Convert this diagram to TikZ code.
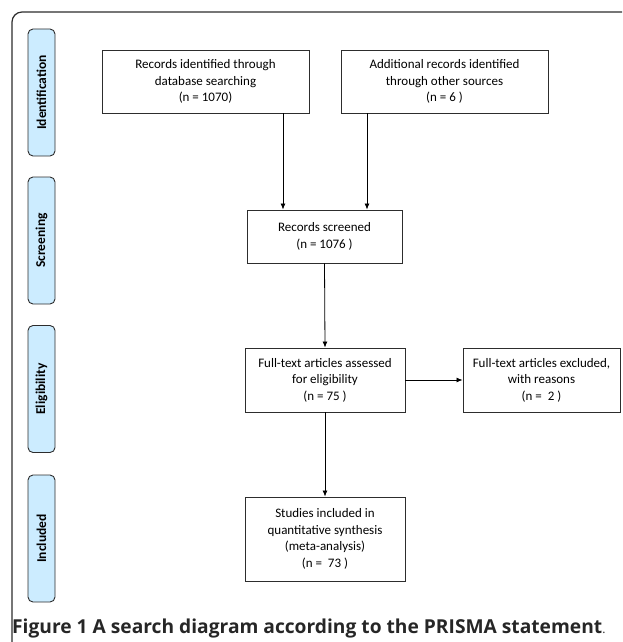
\documentclass[tikz,border=0pt]{standalone}
\usepackage{fontspec}
\setmainfont{Carlito}
\newfontfamily\capfont{Open Sans}
\usetikzlibrary{arrows.meta}
\definecolor{phaseblue}{RGB}{204,236,255}
\definecolor{linegray}{RGB}{45,45,45}

\begin{document}
\begin{tikzpicture}[
       x=1pt, y=-1pt,
       box/.style={
         draw=linegray,
         line width=0.9pt,
         align=center,
         font=\fontsize{13}{16.5}\selectfont,
         inner sep=2pt
       },
       phase/.style={
         draw=linegray,
         fill=phaseblue,
         line width=0.9pt,
         rounded corners=5pt,
         rotate=90,
         minimum width=127pt,
         minimum height=27pt,
         font=\bfseries\fontsize{13.5}{15}\selectfont
       },
       flow/.style={
         -{Latex[length=6pt,width=5pt]},
         line width=0.8pt,
         draw=black
       }
     ]

       \useasboundingbox (0,0) rectangle (622,642);

       % frame
       \draw[linegray, line width=1.2pt, rounded corners=10pt]
         (12,642) -- (12,12) -- (622,12);

       % phases
       \node (idf) at (41.5,92.5) [phase]{Identification};
       \node (scr) at (41.5,240.5) [phase]{Screening};
       \node (elg) at (41.5,389) [phase]{Eligibility};
       \node (inc) at (41.5,538.5) [phase]{Included};

       % boxes
       \node (db) at (205.5,81.5) [box,minimum width=207pt,minimum height=63pt]
         {Records identified through\\database searching\\(n = 1070)};
       \node (other) at (444.5,81.5) [box,minimum width=207pt,minimum height=63pt]
         {Additional records identified\\through other sources\\(n = 6 )};
       \node (screened) at (324.5,236.5) [box,minimum width=155pt,minimum height=53pt]
         {Records screened\\(n = 1076 )};
       \node (assessed) at (325,380) [box,minimum width=160pt,minimum height=64pt]
         {Full-text articles assessed\\for eligibility\\(n = 75 )};
       \node (excluded) at (541.5,380) [box,minimum width=157pt,minimum height=64pt]
         {Full-text articles excluded,\\with reasons\\(n =\ \ 2 )};
       \node (studies) at (325,539) [box,minimum width=160pt,minimum height=84pt]
         {Studies included in\\quantitative synthesis\\(meta-analysis)\\(n =\ \ 73 )};

       % arrows
       \draw[flow] ([xshift=77.5pt]db.south) -- ([xshift=77.5pt]db.south |- screened.north);
       \draw[flow] ([xshift=-77.5pt]other.south) -- ([xshift=-77.5pt]other.south |- screened.north);
       \draw[flow] (screened.south) -- (assessed.north);
       \draw[flow] (assessed.east) -- (excluded.west);
       \draw[flow] (assessed.south) -- (studies.north);

       % caption
       \node (cap) at (12,633) [anchor=base west,inner sep=0pt,
         font=\capfont\bfseries\fontsize{19.2}{21}\selectfont,text=black!85]
         {Figure 1 A search diagram according to the PRISMA statement{\mdseries\fontsize{12}{14}\selectfont.}};

\end{tikzpicture}
\end{document}
